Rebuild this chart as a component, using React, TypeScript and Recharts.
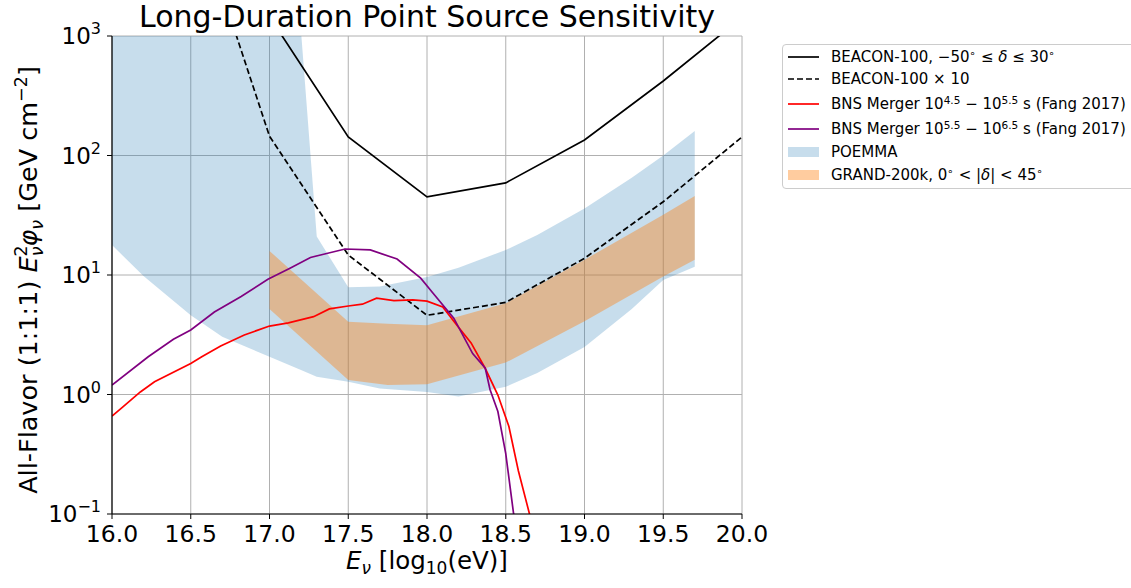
import React from 'react';
import { ComposedChart, Line, Area, XAxis, YAxis, CartesianGrid } from 'recharts';

const FONT = '"DejaVu Sans", Verdana, sans-serif';

// log10(E / eV)
const xTicks = [16.0, 16.5, 17.0, 17.5, 18.0, 18.5, 19.0, 19.5, 20.0];
const yTicks = [0.1, 1, 10, 100, 1000];
const yMinorTicks = [
  0.2, 0.3, 0.4, 0.5, 0.6, 0.7, 0.8, 0.9,
  2, 3, 4, 5, 6, 7, 8, 9,
  20, 30, 40, 50, 60, 70, 80, 90,
  200, 300, 400, 500, 600, 700, 800, 900,
];

// BEACON-100 (solid) and x10 (dashed), GeV cm^-2
const beaconE = [16.5, 17.0, 17.5, 18.0, 18.5, 19.0, 19.5, 20.0];
const beaconFlux = [145000, 1450, 143, 45, 59, 135, 420, 1430];
const beacon10Flux = [14500, 145, 14.7, 4.6, 5.9, 13.8, 41, 143];

// BNS merger 10^4.5 - 10^5.5 s
const bnsEarlyE = [
  16.0, 16.06, 16.18, 16.27, 16.5, 16.57, 16.69, 16.84, 17.0, 17.12, 17.28,
  17.38, 17.5, 17.59, 17.68, 17.79, 17.91, 18.0, 18.1, 18.19, 18.28, 18.37,
  18.45, 18.52, 18.58, 18.65, 18.67,
];
const bnsEarlyFlux = [
  0.66, 0.77, 1.05, 1.28, 1.82, 2.07, 2.55, 3.15, 3.74, 3.98, 4.48,
  5.2, 5.5, 5.7, 6.4, 6.1, 6.2, 6.05, 5.4, 3.8, 2.7, 1.65,
  0.99, 0.54, 0.23, 0.101, 0.08,
];

// BNS merger 10^5.5 - 10^6.5 s
const bnsLateE = [
  16.0, 16.23, 16.39, 16.5, 16.65, 16.82, 16.99, 17.13, 17.26, 17.35, 17.48,
  17.64, 17.81, 17.96, 18.04, 18.17, 18.29, 18.37, 18.4, 18.45, 18.5, 18.55, 18.56,
];
const bnsLateFlux = [
  1.2, 2.07, 2.9, 3.47, 4.9, 6.6, 9.2, 11.4, 14.0, 15.0, 16.5,
  16.2, 13.6, 9.4, 7.0, 4.35, 2.2, 1.66, 1.1, 0.72, 0.32, 0.1, 0.085,
];

// POEMMA band
const poemmaE = [16.0, 16.2, 16.5, 16.7, 17.0, 17.2, 17.3, 17.5, 17.7, 18.0, 18.2, 18.5, 18.7, 19.0, 19.3, 19.5, 19.7];
const poemmaLow = [17.8, 9.8, 4.6, 3.05, 2.07, 1.6, 1.41, 1.28, 1.12, 1.05, 0.96, 1.16, 1.51, 2.5, 5.2, 9.1, 11.7];
const poemmaHigh = [3000, 3000, 3000, 3000, 3000, 1100, 21, 7.9, 8.0, 9.6, 11.5, 16.2, 21.6, 36, 65, 100, 160];

// GRAND-200k band
const grandE = [17.0, 17.5, 17.75, 18.0, 18.5, 19.0, 19.5, 19.7];
const grandLow = [5.2, 1.32, 1.2, 1.22, 1.85, 4.1, 9.7, 13.4];
const grandHigh = [15.9, 4.07, 3.9, 3.8, 5.8, 13.4, 32, 45.8];

const toLine = (xs: number[], ys: number[]) => xs.map((x, i) => ({ x, y: ys[i] }));
const toBand = (xs: number[], lo: number[], hi: number[]) =>
  xs.map((x, i) => ({ x, range: [lo[i], hi[i]] }));

const LogTick = (props: any) => {
  const { x, y, payload } = props;
  const exp = Math.round(Math.log10(payload.value));
  return (
    <text x={x} y={y} dy={8} textAnchor="end" fontFamily={FONT} fontSize={23} fill="#000">
      <tspan>10</tspan>
      <tspan dy={-10} fontSize={16}>{exp < 0 ? '\u2212' + -exp : String(exp)}</tspan>
    </text>
  );
};

const EmptyTick = () => <g />;

const legendRows = [
  { kind: 'line', color: '#000', dash: undefined, top: 12, label: <>BEACON-100, {'\u2212'}50<sup>{'\u2218'}</sup> ≤ <i>δ</i> ≤ 30<sup>{'\u2218'}</sup></> },
  { kind: 'line', color: '#000', dash: '6 3', top: 34, label: <>BEACON-100 × 10</> },
  { kind: 'line', color: '#ff0000', dash: undefined, top: 59, label: <>BNS Merger 10<sup>4.5</sup> {'\u2212'} 10<sup>5.5</sup> s (Fang 2017)</> },
  { kind: 'line', color: '#800080', dash: undefined, top: 84, label: <>BNS Merger 10<sup>5.5</sup> {'\u2212'} 10<sup>6.5</sup> s (Fang 2017)</> },
  { kind: 'patch', color: 'rgba(31,119,180,0.25)', dash: undefined, top: 107, label: <>POEMMA</> },
  { kind: 'patch', color: 'rgba(255,127,14,0.4)', dash: undefined, top: 130, label: <>GRAND-200k, 0<sup>{'\u2218'}</sup> &lt; |<i>δ</i>| &lt; 45<sup>{'\u2218'}</sup></> },
];

export default function App() {
  return (
    <div style={{ position: 'absolute', left: 0, top: 0, width: 1131, height: 588, background: '#fff', fontFamily: FONT }}>
      <ComposedChart width={1131} height={588} margin={{ top: 36, right: 389, bottom: 34, left: 0 }}>
        <XAxis
          dataKey="x"
          type="number"
          domain={[16, 20]}
          ticks={xTicks}
          interval={0}
          allowDataOverflow
          tickFormatter={(v: number) => v.toFixed(1)}
          height={40}
          tickSize={5}
          tickMargin={6}
          axisLine={{ stroke: '#000', strokeWidth: 1.2 }}
          tickLine={{ stroke: '#000' }}
          tick={{ fill: '#000', fontSize: 23.5, fontFamily: FONT }}
        />
        <XAxis xAxisId="top" orientation="top" type="number" domain={[16, 20]} height={0} tick={false} tickLine={false} axisLine={{ stroke: '#000', strokeWidth: 1.2 }} />
        <YAxis
          yAxisId="minor"
          scale="log"
          type="number"
          domain={[0.1, 1000]}
          allowDataOverflow
          ticks={yMinorTicks}
          interval={0}
          width={0}
          tickSize={3}
          axisLine={false}
          tickLine={{ stroke: '#000', strokeWidth: 0.8 }}
          tick={EmptyTick}
        />
        <YAxis
          scale="log"
          type="number"
          domain={[0.1, 1000]}
          allowDataOverflow
          ticks={yTicks}
          interval={0}
          width={112}
          tickSize={5}
          tickMargin={6}
          axisLine={{ stroke: '#000', strokeWidth: 1.2 }}
          tickLine={{ stroke: '#000' }}
          tick={LogTick}
        />
        <YAxis yAxisId="right" orientation="right" type="number" domain={[0, 1]} width={0} tick={false} tickLine={false} axisLine={{ stroke: '#000', strokeWidth: 1.2 }} />

        <Area
          data={toBand(poemmaE, poemmaLow, poemmaHigh)}
          dataKey="range"
          type="linear"
          stroke="none"
          fill="#1f77b4"
          fillOpacity={0.25}
          isAnimationActive={false}
        />
        <Area
          data={toBand(grandE, grandLow, grandHigh)}
          dataKey="range"
          type="linear"
          stroke="none"
          fill="#ff7f0e"
          fillOpacity={0.4}
          isAnimationActive={false}
        />
        <CartesianGrid stroke="#b0b0b0" strokeWidth={1} />

        <Line data={toLine(beaconE, beaconFlux)} dataKey="y" type="linear" stroke="#000" strokeWidth={1.7} dot={false} isAnimationActive={false} />
        <Line data={toLine(beaconE, beacon10Flux)} dataKey="y" type="linear" stroke="#000" strokeWidth={1.7} strokeDasharray="6 3" dot={false} isAnimationActive={false} />
        <Line data={toLine(bnsEarlyE, bnsEarlyFlux)} dataKey="y" type="linear" stroke="#ff0000" strokeWidth={1.7} dot={false} isAnimationActive={false} />
        <Line data={toLine(bnsLateE, bnsLateFlux)} dataKey="y" type="linear" stroke="#800080" strokeWidth={1.7} dot={false} isAnimationActive={false} />
      </ComposedChart>

      <svg width={1131} height={588} style={{ position: 'absolute', left: 0, top: 0, pointerEvents: 'none' }}>
        <text x={427} y={27} textAnchor="middle" fontFamily={FONT} fontSize={30} fill="#000">
          Long-Duration Point Source Sensitivity
        </text>
        <text x={427} y={569} textAnchor="middle" fontFamily={FONT} fontSize={24.5} fill="#000">
          <tspan fontStyle="italic">E</tspan>
          <tspan dy={5} fontSize={17} fontStyle="italic">ν</tspan>
          <tspan dy={-5}> [log</tspan>
          <tspan dy={5} fontSize={17}>10</tspan>
          <tspan dy={-5}>(eV)]</tspan>
        </text>
        <text transform="translate(37,280) rotate(-90)" textAnchor="middle" fontFamily={FONT} fontSize={25.5} fill="#000">
          <tspan>All-Flavor (1:1:1) </tspan>
          <tspan fontStyle="italic">E</tspan>
          <tspan dy={-10} fontSize={17.5}>2</tspan>
          <tspan dx={-11} dy={16} fontSize={17.5} fontStyle="italic">ν</tspan>
          <tspan dy={-6} fontStyle="italic">φ</tspan>
          <tspan dy={6} fontSize={17.5} fontStyle="italic">ν</tspan>
          <tspan dy={-6}> [GeV cm</tspan>
          <tspan dy={-10} fontSize={17.5}>{'\u2212'}2</tspan>
          <tspan dy={10}>]</tspan>
        </text>
      </svg>

      <div
        style={{
          position: 'absolute',
          left: 782,
          top: 44,
          width: 370,
          height: 143,
          border: '1px solid #cccccc',
          borderRadius: 4,
          background: '#fff',
          fontSize: 15,
          color: '#000',
        }}
      >
        {legendRows.map((r, i) => (
          <div key={i} style={{ position: 'absolute', left: 0, top: r.top - 10, height: 20, width: 370 }}>
            <svg width={40} height={20} style={{ position: 'absolute', left: 4, top: 0 }}>
              {r.kind === 'line' ? (
                <line x1={1} x2={32} y1={10} y2={10} stroke={r.color} strokeWidth={1.7} strokeDasharray={r.dash} />
              ) : (
                <rect x={1} y={5} width={31} height={10} fill={r.color} />
              )}
            </svg>
            <div style={{ position: 'absolute', left: 48, top: 0, lineHeight: '20px', whiteSpace: 'nowrap' }}>
              <span style={{ fontSize: 15 }}>{r.label}</span>
            </div>
          </div>
        ))}
      </div>
      <style>{`sup { font-size: 0.7em; vertical-align: 0.45em; line-height: 0; }`}</style>
    </div>
  );
}
